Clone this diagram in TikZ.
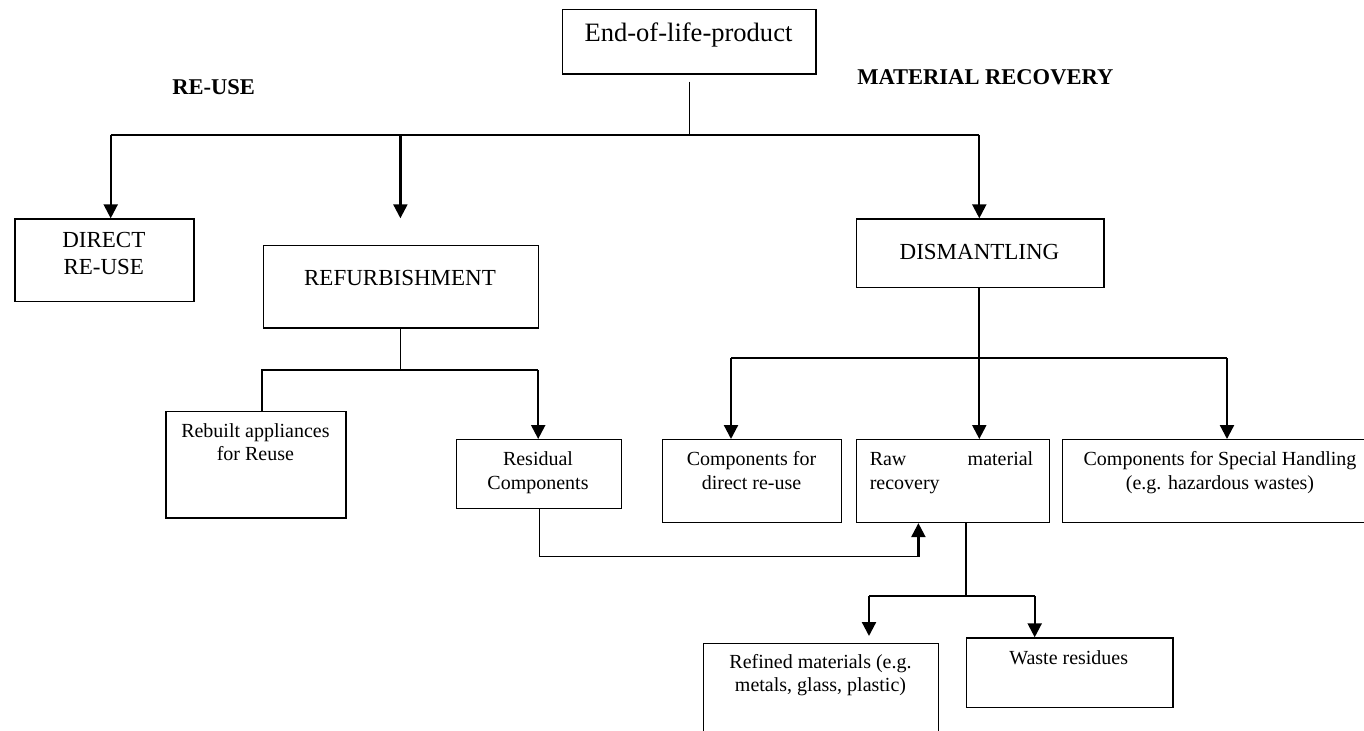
\documentclass[tikz,border=0pt]{standalone}
\usepackage{fontspec}
\setmainfont{Liberation Serif}
\usetikzlibrary{arrows.meta}
\newcommand\fEnd{\fontsize{19.9}{24}\selectfont}
\newcommand\fBig{\fontsize{17.25}{20}\selectfont}
\newcommand\fSm{\fontsize{15}{17.5}\selectfont}
\newcommand\fHead{\fontsize{16.9}{20}\selectfont\bfseries}
\begin{document}
\begin{tikzpicture}[x=0.75pt,y=-0.75pt,
  box/.style={draw,line width=1.1pt,inner sep=0pt,anchor=north west},
  txt/.style={inner sep=0pt,anchor=base,align=center},
  fine/.style={line width=0.9pt},
  heavy/.style={line width=1.7pt},
  arr/.style={heavy,-{Triangle[length=10.5pt,width=10.5pt]}}]
\useasboundingbox (0,0) rectangle (1364,731);
\fill[white] (0,0) rectangle (1364,731);

% boxes
\node[box,minimum width=190.35pt,minimum height=48.2pt] (endb) at (561.6,9) {};
\node[box,minimum width=134.25pt,minimum height=62pt] (direct) at (14.3,218.3) {};
\node[box,minimum width=206.6pt,minimum height=61.7pt] (refurb) at (262.5,245) {};
\node[box,minimum width=185.9pt,minimum height=51.3pt] (dismant) at (855.6,218.3) {};
\node[box,minimum width=135pt,minimum height=79.7pt] (rebuilt) at (165.4,411) {};
\node[box,minimum width=123.9pt,minimum height=51.5pt] (residual) at (455.6,439) {};
\node[box,minimum width=134.25pt,minimum height=62pt] (compdir) at (662,439) {};
\node[box,minimum width=144.75pt,minimum height=62pt] (raw) at (855.6,439) {};
\node[box,minimum width=238.5pt,minimum height=62pt] (special) at (1062,439) {};
\node[box,minimum width=176.25pt,minimum height=76.7pt] (refined) at (703,642.7) {};
\node[box,minimum width=154.9pt,minimum height=52pt] (waste) at (965.5,637.3) {};

% texts (multi-line nodes are placed by the baseline of their last line)
\node[txt,font=\fEnd] (tEnd) at (688.5,41.7) {End-of-life-product};
\node[txt,font=\fHead,anchor=base west] (tReuse) at (172,95) {RE-USE};
\node[txt,font=\fHead,anchor=base west] (tMat) at (857,85) {MATERIAL RECOVERY};
\node[txt,font=\fBig] (tDirect) at (103.8,274) {DIRECT\\RE-USE};
\node[txt,font=\fBig] (tRefurb) at (400,285) {REFURBISHMENT};
\node[txt,font=\fBig] (tDismant) at (979.5,259.3) {DISMANTLING};
\node[txt,font=\fSm] (tRebuilt) at (255.4,460.7) {Rebuilt appliances\\for Reuse};
\node[txt,font=\fSm] (tResidual) at (538,489.3) {Residual\\Components};
\node[txt,font=\fSm] (tCompdir) at (751.5,489.3) {Components for\\direct re-use};
\node[txt,font=\fSm,anchor=base west,align=left] (tRaw) at (869.5,489.3) {\makebox[122.6pt][l]{Raw\hfill material}\\recovery};
\node[txt,font=\fSm] (tSpecial) at (1220,489.3) {Components for Special Handling\\(e.g. hazardous wastes)};
\node[txt,font=\fSm] (tRefined) at (820.5,691.7) {Refined materials (e.g.\\metals, glass, plastic)};
\node[txt,font=\fSm] (tWaste) at (1068.7,664) {Waste residues};

% junction points
\coordinate (jtop) at (689.4,135);
\coordinate (bl) at (110.7,135);
\coordinate (bm) at (400.4,135);
\coordinate (br) at (979.3,135);
\coordinate (refarr) at (400.4,218.3);
\coordinate (rsplit) at (400.4,370);
\coordinate (rleft) at (262.3,370);
\coordinate (rright) at (538.2,370);
\coordinate (dsplit) at (979.3,358);
\coordinate (dleft) at (731,358);
\coordinate (dright) at (1227,358);
\coordinate (fbl) at (539.6,556.7);
\coordinate (fbr) at (918.4,556.7);
\coordinate (wsplit) at (966,596);
\coordinate (wleft) at (869,596);
\coordinate (wright) at (1034.7,596);
\coordinate (refarrow) at (869,636);

% first level
\draw[fine] (endb.south -| jtop) ++(0,7) -- (jtop);
\draw[fine] (bl) -- (br);
\draw[arr] (bl) -- (bl |- direct.north);
\draw[arr] (bm) -- (refarr);
\draw[arr] (br) -- (br |- dismant.north);

% refurbishment branch
\draw[fine] (refurb.south -| rsplit) -- (rsplit);
\draw[heavy] (rleft |- rebuilt.north) -- (rleft) -- (rright);
\draw[arr] (rright) -- (rright |- residual.north);

% dismantling branch
\draw[arr] (dismant.south -| dsplit) -- (dsplit |- raw.north);
\draw[heavy] (dleft) -- (dright);
\draw[arr] (dleft) -- (dleft |- compdir.north);
\draw[arr] (dright) -- (dright |- special.north);

% residual components fed back to raw material recovery
\draw[fine] (residual.south -| fbl) -- (fbl) -- (fbr);
\draw[arr] (fbr) -- (fbr |- raw.south);

% raw material recovery outputs
\draw[fine] (raw.south -| wsplit) -- (wsplit);
\draw[heavy] (wleft) -- (wright);
\draw[arr] (wleft) -- (refarrow);
\draw[arr] (wright) -- (wright |- waste.north);
\end{tikzpicture}
\end{document}
